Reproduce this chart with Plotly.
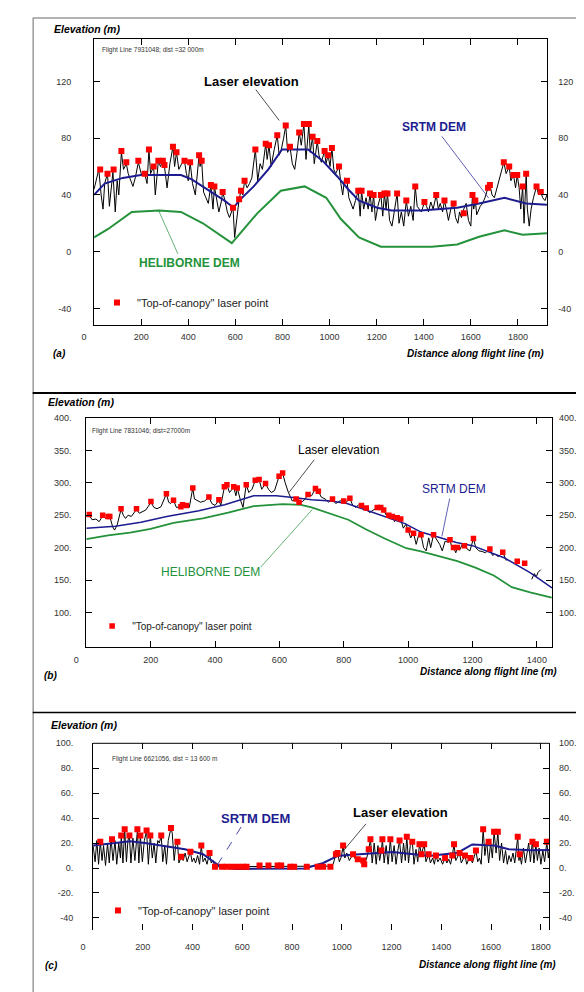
import plotly.graph_objects as go

# ---------------- data ----------------
# Panel (a)  Flight line 7931048
a_laser_x = [0,10,20,30,38,45,57,65,72,80,90,98,105,116,125,137,145,155,165,175,
             188,200,215,225,233,240,253,260,273,282,292,299,310,322,335,342,350,360,372,384,
             392,400,408,418,430,446,450,457,465,475,485,496,505,511,520,530,540,546,556,566,
             575,590,597,605,616,624,632,639,650,660,670,685,695,705,715,729,735,743,752,765,
             778,786,795,805,814,822,832,842,852,862,871,880,891,900,912,918,928,935,948,955,
             965,979,985,994,1002,1010,1018,1026,1040,1048,1056,1064,1074,1082,1090,1100,1110,1122,1130,1136,
             1145,1155,1164,1172,1180,1187,1195,1205,1218,1226,1233,1240,1246,1255,1265,1275,1287,1295,1305,1315,
             1326,1335,1345,1355,1364,1372,1380,1390,1403,1412,1420,1430,1440,1453,1462,1470,1480,1488,1496,1505,
             1515,1527,1535,1545,1552,1560,1570,1580,1590,1600,1607,1612,1619,1625,1640,1650,1660,1673,1681,1690,
             1700,1740,1750,1763,1770,1781,1790,1797,1805,1812,1820,1826,1835,1840,1848,1856,1866,1879,1888,1897,
             1905,1915,1923]
a_laser_y = [44,52,58,40,30,48,55,32,45,56,28,50,40,70,58,62,55,50,46,52,
             63,55,55,48,72,55,60,40,64,60,64,60,45,62,74,60,70,58,62,64,
             55,50,63,48,40,68,60,64,42,38,34,47,30,46,38,28,35,42,36,28,
             24,31,10,22,37,43,40,50,45,48,52,72,50,62,58,76,65,75,60,72,
             82,68,72,80,89,70,74,62,58,70,84,75,90,65,89,70,81,62,78,68,
             63,71,62,68,60,73,58,55,60,48,40,52,50,38,35,30,36,43,25,43,
             30,38,30,41,28,40,22,32,40,25,41,30,41,22,18,30,41,20,28,18,
             36,25,32,22,46,32,30,28,35,32,28,35,30,40,30,34,28,36,30,22,
             30,34,24,20,28,24,30,34,22,18,40,30,36,26,32,34,38,45,47,40,
             38,63,55,60,50,54,45,54,45,30,46,20,55,30,18,30,38,46,40,42,
             38,36,40]
a_top_x = [26,57,83,116,137,188,215,233,253,273,292,299,335,350,384,408,446,457,496,511,
           546,590,616,624,639,685,729,743,778,814,832,871,891,912,928,948,979,994,1010,1040,
           1074,1122,1136,1172,1187,1218,1233,1246,1287,1326,1364,1403,1453,1488,1527,1570,1607,1619,1681,1673,
           1740,1763,1781,1797,1820,1835,1879,1897]
a_top_y = [58,55,58,71,63,64,55,72,60,64,64,61,74,70,64,63,68,64,47,46,
           42,31,37,43,50,72,76,75,82,89,74,84,90,90,81,78,71,68,73,60,
           50,43,43,41,40,40,41,41,41,36,46,35,40,36,34,27,40,36,47,45,
           63,60,54,54,46,55,46,42]
a_srtm_x = [0,45,122,199,276,369,415,492,554,593,616,678,740,798,909,971,1033,1079,1125,1202,
            1264,1388,1542,1635,1743,1835,1923]
a_srtm_y = [40,48,52,54,54,54,51,43,36,31,36,46,58,72,72,64,53,44,36,31,
            29,29,31,34,38,34,33]
a_heli_x = [0,60,160,276,369,462,585,693,793,894,986,1048,1125,1218,1434,1542,1635,1743,1820,1923]
a_heli_y = [10,16,28,29,28,20,6,27,43,46,38,23,10,3.5,3.5,5,10.5,15,12,13]

# Panel (b)  Flight line 7831046
b_laser_x = [0,9,18,30,40,51,60,68,73,82,88,96,108,115,122,130,140,156,165,175,
             185,201,210,220,232,249,256,262,271,280,294,299,311,320,331,336,345,355,368,381,
             390,400,412,418,429,437,445,458,465,469,478,487,497,505,515,525,537,545,557,566,
             575,585,599,610,618,628,640,652,661,670,680,689,700,712,721,730,742,753,765,775,
             788,800,808,819,828,838,846,855,862,870,880,892,904,915,924,932,940,951,958,966,
             977,985,993,1000,1008,1017,1025,1033,1040,1048,1056,1064,1070,1079,1088,1098,1106,1115,1125,1130,
             1136,1141,1148,1153,1160,1168,1175,1183,1192,1203,1210,1220,1230,1240,1254,1262,1270,1280,1294,1300,
             1305,None,1384,1392,1398,1404,1412]
b_laser_y = [248,250,243,244,240,249,245,248,248,232,227,235,259,250,245,250,248,259,253,255,
             258,270,262,260,263,283,270,268,273,262,263,265,264,262,292,275,272,270,272,278,
             268,265,273,265,293,297,285,293,280,292,275,262,297,285,290,304,305,290,299,290,
             285,288,310,315,300,285,272,275,270,270,275,282,280,291,287,278,275,270,275,268,
             272,272,270,276,265,262,266,265,258,261,254,258,262,262,258,250,250,248,240,246,
             244,230,236,227,215,222,205,220,220,200,195,215,200,220,212,205,195,210,208,212,
             200,200,192,200,196,205,203,198,195,214,200,195,194,192,198,188,190,186,193,185,
             180,None,151,160,155,162,166]
b_top_x = [9,51,68,73,108,156,201,249,271,294,299,311,331,381,412,429,437,458,469,497,
           525,537,557,599,610,652,661,689,712,721,765,800,819,855,870,904,915,924,940,951,
           966,977,1000,1017,1040,1079,1130,1141,1153,1175,1203,1254,1294,1339,1362]
b_top_y = [251,250,248,248,260,260,271,283,273,263,266,265,292,278,274,294,297,294,292,297,
           304,305,299,310,315,275,270,282,291,287,275,272,276,265,261,262,262,258,250,248,
           246,244,227,222,220,220,212,200,200,203,214,198,193,179,176]
b_srtm_x = [0,90,170,250,350,430,520,590,650,700,760,810,880,930,990,1040,1150,1200,1300,1380,1447]
b_srtm_y = [230,233,239,248,257,266,280,280,277,274,272,268,256,247,237,224,208,203,184,161,138]
b_heli_x = [0,68,136,200,271,362,441,520,610,667,700,757,814,870,927,994,1040,1153,1209,1266,
            1322,1379,1446]
b_heli_y = [213,219,223,229,238,245,254,264,267,266,262,253,243,228,214,199,194,179,169,157,
            139,131,123]

# Panel (c)  Flight line 6621056
c_laser_x = [0,8,15,22,29,36,42,50,58,65,72,80,88,95,103,110,113,120,127,134,
             140,146,152,160,168,178,184,190,198,206,215,222,230,238,245,252,260,266,274,280,
             288,295,302,313,318,326,332,339,345,354,362,370,378,385,391,398,405,412,420,428,
             435,442,450,458,468,475,482,490,500,600,700,800,900,950,965,976,983,990,998,1005,
             1012,1020,1030,1045,1055,1064,1075,1086,1090,1100,1108,1115,1122,1130,1138,1145,1152,1159,1163,1170,
             1178,1186,1195,1202,1210,1218,1225,1232,1240,1248,1255,1261,1268,1275,1283,1290,1298,1305,1312,1320,
             1331,1338,1349,1356,1365,1372,1378,1386,1395,1405,1415,1422,1430,1437,1444,1451,1458,1466,1473,1480,
             1488,1495,1502,1510,1517,1525,1532,1539,1546,1553,1560,1568,1575,1582,1590,1598,1605,1612,1620,1627,
             1634,1642,1650,1658,1665,1672,1680,1688,1695,1707,1712,1715,1722,1730,1738,1745,1751,1758,1766,1772,
             1780,1786,1793,1800,1808,1815,1824,1830,1835]
c_laser_y = [18,5,22,3,21,6,18,2,20,4,24,6,22,3,20,8,26,4,31,5,
             22,26,4,24,6,30,4,26,5,22,30,3,26,8,20,4,22,20,26,5,
             18,3,22,32,28,6,18,21,4,9,6,12,5,10,13,5,8,4,10,3,
             18,5,8,3,12,4,6,1,1,1,1.5,1,1,1.5,3,11,12,5,9,18,
             8,12,6,11,7,7,6,5,3,8,15,23,4,20,3,18,6,14,23,4,
             18,3,23,5,18,3,14,22,4,20,6,26,4,18,22,3,15,5,19,11,
             19,5,11,4,8,3,10,5,8,3,8,4,7,3,10,19,6,9,12,4,
             8,10,3,7,8,4,9,14,5,8,3,31,10,22,4,20,8,29,12,29,
             6,20,4,14,3,10,5,12,4,25,6,11,3,16,4,12,20,5,22,4,
             19,6,16,3,14,5,21,8,16]
c_top_x = [29,76,113,127,146,178,190,215,230,274,313,339,354,391,435,468,490,518,537,559,
           581,603,617,669,705,742,756,793,808,859,903,925,954,976,983,1005,1045,1064,1086,1090,
           1108,1115,1159,1163,1195,1232,1261,1283,1312,1320,1331,1349,1378,1415,1444,1451,1473,1495,1517,1539,
           1568,1590,1612,1627,1707,1715,1766,1780,1824]
c_top_y = [21,23,26,31,26,31,26,30,26,26,32,21,9,13,18,12,1,1,1,1,
           1,1,1,2,2,2,2,1,1,1,1,1,1,11,12,18,11,7,6,3,
           15,23,14,23,23,22,25,21,19,11,19,11,10,8,10,19,12,10,8,14,
           31,21,29,29,25,11,21,19,21]
c_srtm_x = [0,76,149,208,296,369,442,515,574,734,851,925,983,1027,1144,1203,1290,1349,1466,1524,
            1612,1671,1759,1835]
c_srtm_y = [18,20,21.5,20,17.5,15,11,0.5,-0.8,-0.8,-0.3,4,9.7,10.5,12.3,12.9,11,9.7,12.3,18.9,
            18.1,15,14.2,14.4]

# tick labels
a_xticks = [0,200,400,600,800,1000,1200,1400,1600,1800]
a_yticks = [-40,0,40,80,120]
a_ytext = ["-40","0","40","80","120"]
b_xticks = [0,200,400,600,800,1000,1200,1400]
b_yticks = [100,150,200,250,300,350,400]
b_ytext = ["100.","150.","200.","250.","300.","350.","400."]
c_xticks = [0,200,400,600,800,1000,1200,1400,1600,1800]
c_yticks = [-40,-20,0,20,40,60,80,100]
c_ytext = ["-40","-20.","0.","20.","40.","60.","80.","100."]

legend_text = '"Top-of-canopy" laser point'

# ---------------- layout helpers ----------------
W, H = 584, 992
def fx(p): return p / W
def fy(p): return 1 - p / H

FONT = "Liberation Sans, Arial, sans-serif"
NAVY = "#1c1c90"
GREEN = "#23923a"
RED = "#ff0000"
TICKFONT = dict(family=FONT, size=9, color="#333")
NBSP = "\u00a0"

fig = go.Figure()

def add_panel(n, lx, ly, tx, ty, sx, sy, hx=None, hy=None, sw=2, hw=2, msize=6):
    xa = "x" if n == 1 else f"x{n}"
    ya = "y" if n == 1 else f"y{n}"
    lg = "legend" if n == 1 else f"legend{n}"
    fig.add_trace(go.Scatter(x=lx, y=ly, mode="lines", line=dict(color="black", width=1),
                             xaxis=xa, yaxis=ya, showlegend=False, hoverinfo="skip"))
    if hx is not None:
        fig.add_trace(go.Scatter(x=hx, y=hy, mode="lines", line=dict(color=GREEN, width=hw),
                                 xaxis=xa, yaxis=ya, showlegend=False, hoverinfo="skip"))
    fig.add_trace(go.Scatter(x=sx, y=sy, mode="lines", line=dict(color=NAVY, width=sw),
                             xaxis=xa, yaxis=ya, showlegend=False, hoverinfo="skip"))
    fig.add_trace(go.Scatter(x=tx, y=ty, mode="markers",
                             marker=dict(symbol="square", size=msize, color=RED, line=dict(width=0)),
                             xaxis=xa, yaxis=ya, name=legend_text, legend=lg, showlegend=True,
                             hoverinfo="skip"))
    # dummy trace for the right-hand labelled axis
    fig.add_trace(go.Scatter(x=[None], y=[None], xaxis=xa, yaxis=f"y{n+3}",
                             showlegend=False, hoverinfo="skip"))

add_panel(1, a_laser_x, a_laser_y, a_top_x, a_top_y, a_srtm_x, a_srtm_y, a_heli_x, a_heli_y, 2, 2, 6)
add_panel(2, b_laser_x, b_laser_y, b_top_x, b_top_y, b_srtm_x, b_srtm_y, b_heli_x, b_heli_y, 1.5, 1.8, 5.5)
add_panel(3, c_laser_x, c_laser_y, c_top_x, c_top_y, c_srtm_x, c_srtm_y, None, None, 2, 2, 6)

def xlabels(ticks):
    # the "0" label sits a little left of its tick in the reference
    return [(str(t) + NBSP * 8) if t == 0 else str(t) for t in ticks]

def xax(x0, x1, rng, ticks, anchor, standoff, showline=True):
    return dict(domain=[fx(x0), fx(x1)], range=rng, tickvals=ticks,
                ticktext=xlabels(ticks), ticks="inside", ticklen=6,
                tickcolor="black", tickwidth=1, showline=showline, linecolor="black",
                linewidth=1, mirror="ticks", showgrid=False, zeroline=False,
                tickfont=TICKFONT, ticklabelstandoff=standoff, anchor=anchor,
                fixedrange=True)

def yax(y0, y1, rng, ticks, text, anchor, standoff):
    return dict(domain=[fy(y1), fy(y0)], range=rng, tickvals=ticks, ticktext=text,
                ticks="inside", ticklen=6, tickcolor="black", tickwidth=1,
                showline=True, linecolor="black", linewidth=1, mirror="ticks",
                showgrid=False, zeroline=False, tickfont=TICKFONT,
                ticklabelstandoff=standoff, anchor=anchor, fixedrange=True)

def ryax(over, rng, ticks, text, anchor, standoff):
    return dict(overlaying=over, side="right", anchor=anchor, range=rng, tickvals=ticks,
                ticktext=text, ticks="", showline=False, showgrid=False, zeroline=False,
                tickfont=TICKFONT, ticklabelstandoff=standoff, fixedrange=True)

A_RX, A_RY = [0, 1924], [-52, 150]
B_RX, B_RY = [0, 1447], [47, 400]
C_RX, C_RY = [0, 1833], [-50, 100]

legend_common = dict(xanchor="left", yanchor="middle", bgcolor="rgba(0,0,0,0)",
                     borderwidth=0, itemwidth=30)

fig.update_layout(
    width=W, height=H, margin=dict(l=0, r=0, t=0, b=0),
    paper_bgcolor="white", plot_bgcolor="white",
    xaxis=xax(75, 540, A_RX, a_xticks, "y", 3),
    yaxis=yax(26, 314, A_RY, a_yticks, a_ytext, "x", 20),
    yaxis4=ryax("y", A_RY, a_yticks, a_ytext, "x", 10),
    xaxis2=xax(67, 545, B_RX, b_xticks, "y2", 4),
    yaxis2=yax(407, 637, B_RY, b_yticks, b_ytext, "x2", 12),
    yaxis5=ryax("y2", B_RY, b_yticks, b_ytext, "x2", 6),
    xaxis3=xax(74, 542, C_RX, c_xticks, "y3", 10, showline=False),
    yaxis3=yax(734, 922, C_RY, c_yticks, c_ytext, "x3", 17),
    yaxis6=ryax("y3", C_RY, c_yticks, c_ytext, "x3", 9),
    legend=dict(x=fx(78), y=fy(291), font=dict(family=FONT, size=11, color="#222"), **legend_common),
    legend2=dict(x=fx(73), y=fy(616), font=dict(family=FONT, size=10, color="#222"), **legend_common),
    legend3=dict(x=fx(79), y=fy(902), font=dict(family=FONT, size=11, color="#222"), **legend_common),
)

ann = []
def text(x, y, s, size, color="black", xanchor="center", bold=False, italic=False):
    if italic:
        s = f"<i>{s}</i>"
    if bold:
        s = f"<b>{s}</b>"
    ann.append(dict(x=fx(x), y=fy(y), xref="paper", yref="paper", text=s, showarrow=False,
                    xanchor=xanchor, yanchor="middle",
                    font=dict(family=FONT, size=size, color=color)))

# panel (a)
text(32, 16, "Elevation (m)", 10.5, xanchor="left", bold=True, italic=True)
text(81, 37, "Flight Line 7931048; dist =32 000m", 6.5, color="#333", xanchor="left")
text(237, 69, "Laser elevation", 13, bold=True)
text(424, 115, "SRTM DEM", 12, color=NAVY, bold=True)
text(173, 251, "HELIBORNE DEM", 12, color=GREEN, bold=True)
text(40, 342, "(a)", 10, xanchor="center", bold=True, italic=True)
text(539, 342, "Distance along flight line (m)", 10, xanchor="right", bold=True, italic=True)
# panel (b)
text(26, 391, "Elevation (m)", 10.5, xanchor="left", bold=True, italic=True)
text(71, 420, "Flight Line 7831046; dist=27000m", 6.5, color="#333", xanchor="left")
text(326, 439, "Laser elevation", 12)
text(444, 478, "SRTM DEM", 12, color=NAVY)
text(194, 562, "HELIBORNE DEM", 12, color=GREEN)
text(30, 666, "(b)", 10, bold=True, italic=True)
text(552, 662, "Distance along flight line (m)", 10, xanchor="right", bold=True, italic=True)
# panel (c)
text(29, 716, "Elevation (m)", 10.5, xanchor="left", bold=True, italic=True)
text(91, 750, "Flight Line 6621056, dist = 13 600 m", 6.5, color="#333", xanchor="left")
text(241, 810, "SRTM DEM", 13, color=NAVY, bold=True)
text(389, 804, "Laser elevation", 13, bold=True)
text(31, 957, "(c)", 10, bold=True, italic=True)
text(551, 956, "Distance along flight line (m)", 10, xanchor="right", bold=True, italic=True)

shapes = []
def seg(x0, y0, x1, y1, color, width, dash="solid"):
    shapes.append(dict(type="line", xref="paper", yref="paper", x0=fx(x0), y0=fy(y0),
                       x1=fx(x1), y1=fy(y1), line=dict(color=color, width=width, dash=dash)))

# leader lines
seg(241, 77, 265, 108, "black", 0.7)
seg(432, 124, 480, 186, NAVY, 0.7)
seg(141, 198, 161, 242, GREEN, 0.7)
seg(301, 449, 275, 482, "black", 0.7)
seg(440, 488, 432, 526, NAVY, 0.7)
seg(246, 557, 299, 499, GREEN, 0.7)
seg(226, 818, 201, 857, NAVY, 0.8, "dash")
seg(354, 815, 330, 843, "black", 0.7)
# top frame line of panel (c) (bottom line is missing in the reference)
seg(74, 734, 542, 734, "black", 1)
# outer panel frames
seg(12.5, 5, 12.5, 986, "#9a9a9a", 1.5)
seg(12, 5, 582, 5, "#9a9a9a", 1.5)
seg(581.5, 5, 581.5, 986, "black", 2)
seg(12, 382, 582, 382, "black", 2)
seg(12, 703, 582, 703, "black", 1.5)
seg(12, 985, 582, 985, "#9a9a9a", 1.5)

fig.update_layout(annotations=ann, shapes=shapes)
fig.write_html("out.html")
